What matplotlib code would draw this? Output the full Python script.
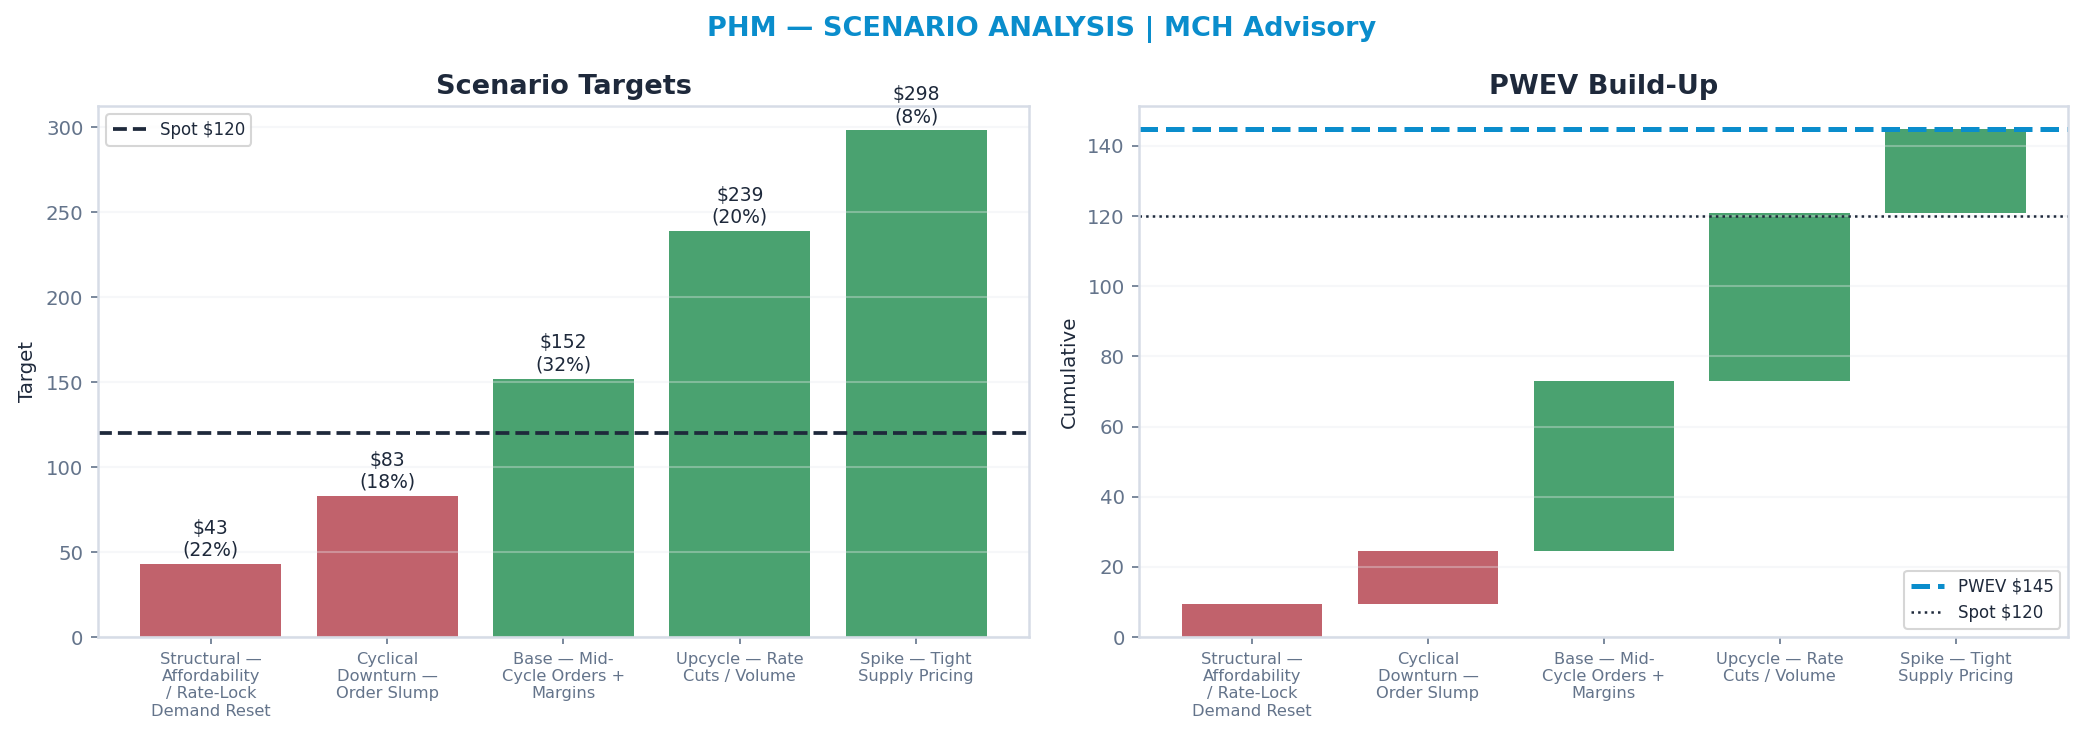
import textwrap
import matplotlib
matplotlib.use('Agg')
import matplotlib.pyplot as plt

# scenario data
scenarios = ['Structural — Affordability / Rate-Lock Demand Reset',
             'Cyclical Downturn — Order Slump',
             'Base — Mid-Cycle Orders + Margins',
             'Upcycle — Rate Cuts / Volume',
             'Spike — Tight Supply Pricing']
targets = [43, 83, 152, 239, 298]
probs = [0.22, 0.18, 0.32, 0.20, 0.08]
spot = 120

RED = '#c1626c'
GREEN = '#4aa270'
NAVY = '#1e293b'
SLATE = '#64748b'
SPINE = '#d6dce6'
BLUE = '#0a8dcc'

labels = [textwrap.fill(s, 14) for s in scenarios]
colors = [RED if t < spot else GREEN for t in targets]
x = list(range(len(targets)))

# waterfall pieces
contrib = [t * p for t, p in zip(targets, probs)]
bottoms = []
run = 0.0
for c in contrib:
    bottoms.append(run)
    run += c
pwev = run

fig = plt.figure(figsize=(2083 / 150, 742 / 150), dpi=150)
ax1 = fig.add_axes([0.047, 0.1415, 0.447, 0.7155])
ax2 = fig.add_axes([0.547, 0.1415, 0.446, 0.7155])


def style(ax):
    for s in ax.spines.values():
        s.set_color(SPINE)
        s.set_linewidth(1.2)
    ax.tick_params(axis='y', colors=SLATE, labelsize=9.5, length=3.5)
    ax.tick_params(axis='x', colors=SLATE, labelsize=7.8, length=3.5)
    ax.grid(axis='y', color='#e8eaee', alpha=0.35, lw=1)
    ax.set_xticks(x)
    ax.set_xticklabels(labels)


# ---- left: scenario targets
ax1.bar(x, targets, color=colors, width=0.8)
ax1.axhline(spot, color=NAVY, ls='--', lw=1.8, label='Spot $%d' % spot)
for xi, t, p in zip(x, targets, probs):
    ax1.annotate('$%d\n(%d%%)' % (t, round(p * 100)), xy=(xi, t),
                 xytext=(0, 2), textcoords='offset points',
                 ha='center', va='bottom', fontsize=9, color=NAVY)
ax1.set_ylim(0, max(targets) * 1.048)
style(ax1)
ax1.set_ylabel('Target', fontsize=9.5, color=NAVY)
ax1.set_title('Scenario Targets', fontsize=13, fontweight='bold', color=NAVY)
ax1.legend(loc='upper left', fontsize=8, labelcolor=NAVY,
           edgecolor='#cccccc', fancybox=True)

# ---- right: PWEV build-up
ax2.bar(x, contrib, bottom=bottoms, color=colors, width=0.8)
ax2.axhline(pwev, color=BLUE, ls='--', lw=2.4, label='PWEV $%d' % round(pwev))
ax2.axhline(spot, color=NAVY, ls=':', lw=1.2, label='Spot $%d' % spot)
ax2.set_ylim(0, pwev * 1.046)
style(ax2)
ax2.set_ylabel('Cumulative', fontsize=9.5, color=NAVY)
ax2.set_title('PWEV Build-Up', fontsize=13, fontweight='bold', color=NAVY)
ax2.legend(loc='lower right', fontsize=8, labelcolor=NAVY,
           edgecolor='#cccccc', fancybox=True)

fig.suptitle('PHM — SCENARIO ANALYSIS | MCH Advisory', fontsize=13,
             fontweight='bold', color=BLUE, y=0.978)

fig.savefig('out.png', dpi=150)
